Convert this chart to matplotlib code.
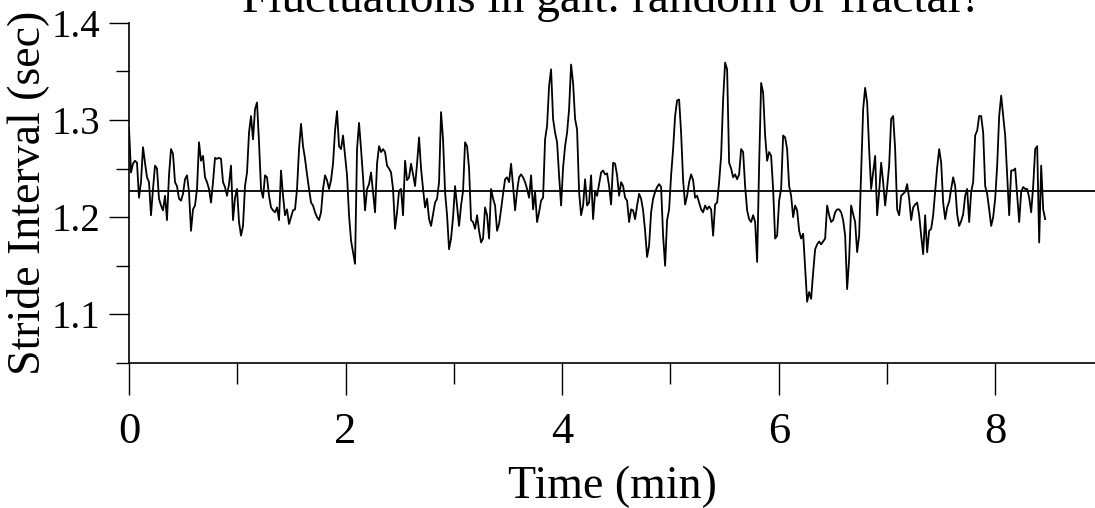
import matplotlib
matplotlib.use('Agg')
import matplotlib.pyplot as plt
import numpy as np

# stride intervals (sec), evenly spaced in time
t_start = 0.0
t_end = 8.46
mean_stride = 1.227

stride = [
    1.292, 1.246, 1.255, 1.258, 1.256, 1.220, 1.236, 1.272, 1.256, 1.241,
    1.236, 1.202, 1.229, 1.253, 1.250, 1.219, 1.212, 1.207, 1.222, 1.197,
    1.243, 1.270, 1.265, 1.236, 1.232, 1.219, 1.217, 1.224, 1.239, 1.243,
    1.226, 1.186, 1.208, 1.212, 1.229, 1.277, 1.258, 1.263, 1.241, 1.236,
    1.229, 1.215, 1.236, 1.261, 1.260, 1.261, 1.260, 1.236, 1.231, 1.222,
    1.234, 1.253, 1.197, 1.220, 1.229, 1.195,
    1.181, 1.191, 1.232, 1.246, 1.287, 1.304, 1.280, 1.311, 1.318, 1.277,
    1.229, 1.220, 1.243, 1.241, 1.222, 1.210, 1.207, 1.205, 1.210, 1.197,
    1.248, 1.222, 1.202, 1.208, 1.193, 1.200, 1.207, 1.208, 1.229, 1.270,
    1.296, 1.273, 1.260, 1.244, 1.229, 1.215, 1.212, 1.205, 1.200, 1.197,
    1.205, 1.229, 1.243, 1.238, 1.229, 1.238, 1.255, 1.289, 1.309, 1.273,
    1.270, 1.284, 1.263, 1.243, 1.202, 1.176, 1.164, 1.152,
    1.270, 1.297, 1.270, 1.241, 1.207, 1.229, 1.234, 1.246, 1.226, 1.205,
    1.255, 1.273, 1.267, 1.270, 1.267, 1.253, 1.250, 1.246, 1.229, 1.188,
    1.205, 1.227, 1.229, 1.202, 1.258, 1.238, 1.241, 1.255, 1.244, 1.232,
    1.255, 1.282, 1.250, 1.229, 1.210, 1.219, 1.198, 1.191, 1.203, 1.215,
    1.219, 1.236, 1.308, 1.280, 1.226, 1.202, 1.167, 1.178, 1.200, 1.232,
    1.212, 1.191, 1.212, 1.227, 1.277, 1.273, 1.250, 1.197,
    1.195, 1.188, 1.202, 1.186, 1.174, 1.178, 1.210, 1.202, 1.178, 1.229,
    1.219, 1.212, 1.186, 1.193, 1.208, 1.224, 1.239, 1.241, 1.236, 1.255,
    1.232, 1.207, 1.227, 1.241, 1.244, 1.241, 1.236, 1.229, 1.220, 1.243,
    1.208, 1.226, 1.195, 1.205, 1.217, 1.220, 1.280, 1.294, 1.335, 1.352,
    1.301, 1.287, 1.277, 1.243, 1.212, 1.251, 1.273, 1.287, 1.311, 1.357,
    1.338, 1.301, 1.290, 1.226, 1.202, 1.212, 1.239,
    1.212, 1.215, 1.243, 1.198, 1.226, 1.222, 1.234, 1.246, 1.248, 1.244,
    1.245, 1.232, 1.213, 1.256, 1.255, 1.243, 1.222, 1.236, 1.232, 1.220,
    1.217, 1.195, 1.208, 1.207, 1.198, 1.212, 1.224, 1.219, 1.207, 1.186,
    1.159, 1.171, 1.205, 1.219, 1.226, 1.231, 1.234, 1.231, 1.181, 1.150,
    1.197, 1.208, 1.243, 1.270, 1.304, 1.320, 1.321, 1.287, 1.238, 1.213,
    1.222, 1.236, 1.244, 1.238, 1.220, 1.222, 1.215, 1.208,
    1.205, 1.212, 1.208, 1.211, 1.208, 1.181, 1.213, 1.215, 1.236, 1.263,
    1.321, 1.359, 1.352, 1.256, 1.250, 1.241, 1.244, 1.239, 1.244, 1.270,
    1.267, 1.232, 1.207, 1.198, 1.195, 1.202, 1.195, 1.154, 1.253, 1.338,
    1.328, 1.284, 1.258, 1.267, 1.263, 1.229, 1.178, 1.181, 1.217, 1.229,
    1.284, 1.282, 1.270, 1.232, 1.222, 1.200, 1.212, 1.207, 1.186, 1.178,
    1.183, 1.147, 1.113, 1.123, 1.116, 1.143, 1.167,
    1.172, 1.175, 1.172, 1.175, 1.178, 1.212, 1.202, 1.195, 1.197, 1.205,
    1.208, 1.208, 1.205, 1.197, 1.181, 1.126, 1.157, 1.212, 1.203, 1.195,
    1.164, 1.181, 1.246, 1.311, 1.333, 1.318, 1.270, 1.229, 1.246, 1.263,
    1.202, 1.226, 1.256, 1.236, 1.212, 1.231, 1.253, 1.301, 1.304, 1.270,
    1.208, 1.202, 1.222, 1.224, 1.226, 1.234, 1.219, 1.197, 1.210, 1.213,
    1.215, 1.202, 1.181, 1.162, 1.202, 1.164, 1.186, 1.188,
    1.202, 1.226, 1.251, 1.270, 1.256, 1.215, 1.198, 1.210, 1.216, 1.229,
    1.241, 1.232, 1.203, 1.191, 1.196, 1.203, 1.222, 1.229, 1.195, 1.226,
    1.236, 1.284, 1.289, 1.304, 1.304, 1.287, 1.232, 1.224, 1.208, 1.191,
    1.200, 1.219, 1.253, 1.304, 1.325, 1.304, 1.284, 1.243, 1.202, 1.248,
    1.248, 1.250, 1.222, 1.195, 1.226, 1.231, 1.229, 1.229, 1.220, 1.205,
    1.232, 1.270, 1.273, 1.174, 1.253, 1.208, 1.198,
]

x_major = [0, 2, 4, 6, 8]
x_minor = [1, 3, 5, 7]
y_major = [1.1, 1.2, 1.3, 1.4]
y_minor = [1.05, 1.15, 1.25, 1.35]

t = np.linspace(t_start, t_end, len(stride))

plt.rcParams['font.family'] = ['Liberation Serif', 'DejaVu Serif']

fig = plt.figure(figsize=(10.95, 5.08), dpi=100)
ax = fig.add_axes([0.1178, 0.2854, 0.8822, 0.6699])

ax.plot(t, stride, color='black', lw=1.3)
ax.axhline(mean_stride, color='black', lw=1.3)

ax.set_xlim(0, 8.92)
ax.set_ylim(1.05, 1.4)
ax.set_xticks(x_major)
ax.set_xticks(x_minor, minor=True)
ax.set_yticks(y_major)
ax.set_yticks(y_minor, minor=True)
ax.set_yticklabels([f'{v:.1f}' for v in y_major])

ax.spines[['top', 'right']].set_visible(False)
for s in ['left', 'bottom']:
    ax.spines[s].set_linewidth(1.2)

ax.tick_params(axis='x', which='major', length=23, width=1, pad=12, labelsize=32)
ax.tick_params(axis='x', which='minor', length=15, width=1)
ax.tick_params(axis='y', which='major', length=14.4, width=1, pad=6, labelsize=28)
ax.tick_params(axis='y', which='minor', length=9.4, width=1)

ax.set_xlabel('Time (min)', fontsize=33, labelpad=10)
ax.set_ylabel('Stride Interval (sec)', fontsize=33, labelpad=2)
# title sits partly above the canvas, as in the original figure
ax.set_title('Fluctuations in gait: random or fractal?', fontsize=34, pad=7.7)

fig.savefig('out.png', dpi=100)
